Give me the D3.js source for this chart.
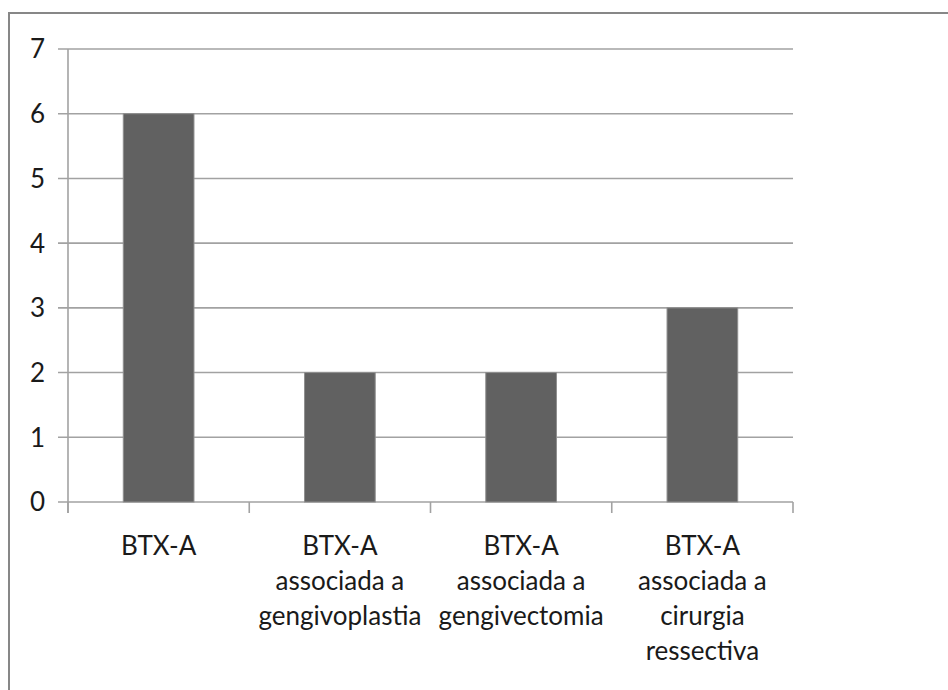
<!DOCTYPE html>
<html><head><meta charset="utf-8">
<script src="https://cdn.jsdelivr.net/npm/d3@7"></script>
<style>body{margin:0;background:#fff}svg{display:block}</style>
</head><body>
<svg id="c" width="948" height="690"></svg>
<script>
const categories = [
  ["BTX-A"],
  ["BTX-A","associada a","gengivoplastia"],
  ["BTX-A","associada a","gengivectomia"],
  ["BTX-A","associada a","cirurgia","ressectiva"]
];
const values = [6, 2, 2, 3];
const yTicks = [0,1,2,3,4,5,6,7];

const font = "Lato,'Open Sans',sans-serif";
const svg = d3.select("#c");
svg.append("rect").attr("x",9).attr("y",13).attr("width",960).attr("height",700)
  .attr("fill","none").attr("stroke","#878787").attr("stroke-width",2);

const x0 = 68, x1 = 793, yTop = 49, yBot = 502;
const x = d3.scaleBand().domain(d3.range(categories.length)).range([x0,x1]).padding(0);
const y = d3.scaleLinear().domain([0,7]).range([yBot,yTop]);
const grid = "#a2a2a2";

svg.append("g").selectAll("line").data(yTicks).join("line")
  .attr("x1",58).attr("x2",x1).attr("y1",d=>y(d)).attr("y2",d=>y(d))
  .attr("stroke",grid).attr("stroke-width",1.6);
svg.append("line").attr("x1",x0).attr("x2",x0).attr("y1",yTop).attr("y2",yBot+11)
  .attr("stroke",grid).attr("stroke-width",1.6);
const bounds = d3.range(categories.length+1).map(i=> i<categories.length ? x(i) : x1);
svg.append("g").selectAll("line").data(bounds).join("line")
  .attr("x1",d=>d).attr("x2",d=>d).attr("y1",yBot).attr("y2",yBot+11)
  .attr("stroke",grid).attr("stroke-width",1.6);

const bw = x.bandwidth()*0.39;
svg.append("g").selectAll("rect").data(values).join("rect")
  .attr("x",(d,i)=>x(i)+x.bandwidth()/2-bw/2).attr("width",bw)
  .attr("y",d=>y(d)).attr("height",d=>y(0)-y(d))
  .attr("fill","#616161").attr("stroke","#8f8f8f").attr("stroke-width",1);

svg.append("g").selectAll("text").data(yTicks).join("text")
  .attr("x",45).attr("y",d=>y(d)).attr("dy","0.36em").attr("text-anchor","end")
  .attr("font-family",font).attr("font-size",26).attr("fill","#1a1a1a").text(d=>d);

const xl = svg.append("g").selectAll("text").data(categories).join("text")
  .attr("text-anchor","middle").attr("font-family",font).attr("font-size",26).attr("fill","#1a1a1a");
xl.selectAll("tspan").data((d,i)=>d.map(s=>({s,i}))).join("tspan")
  .attr("x",d=>x(d.i)+x.bandwidth()/2).attr("y",(d,j)=>555+j*35).text(d=>d.s);
</script>
</body></html>
